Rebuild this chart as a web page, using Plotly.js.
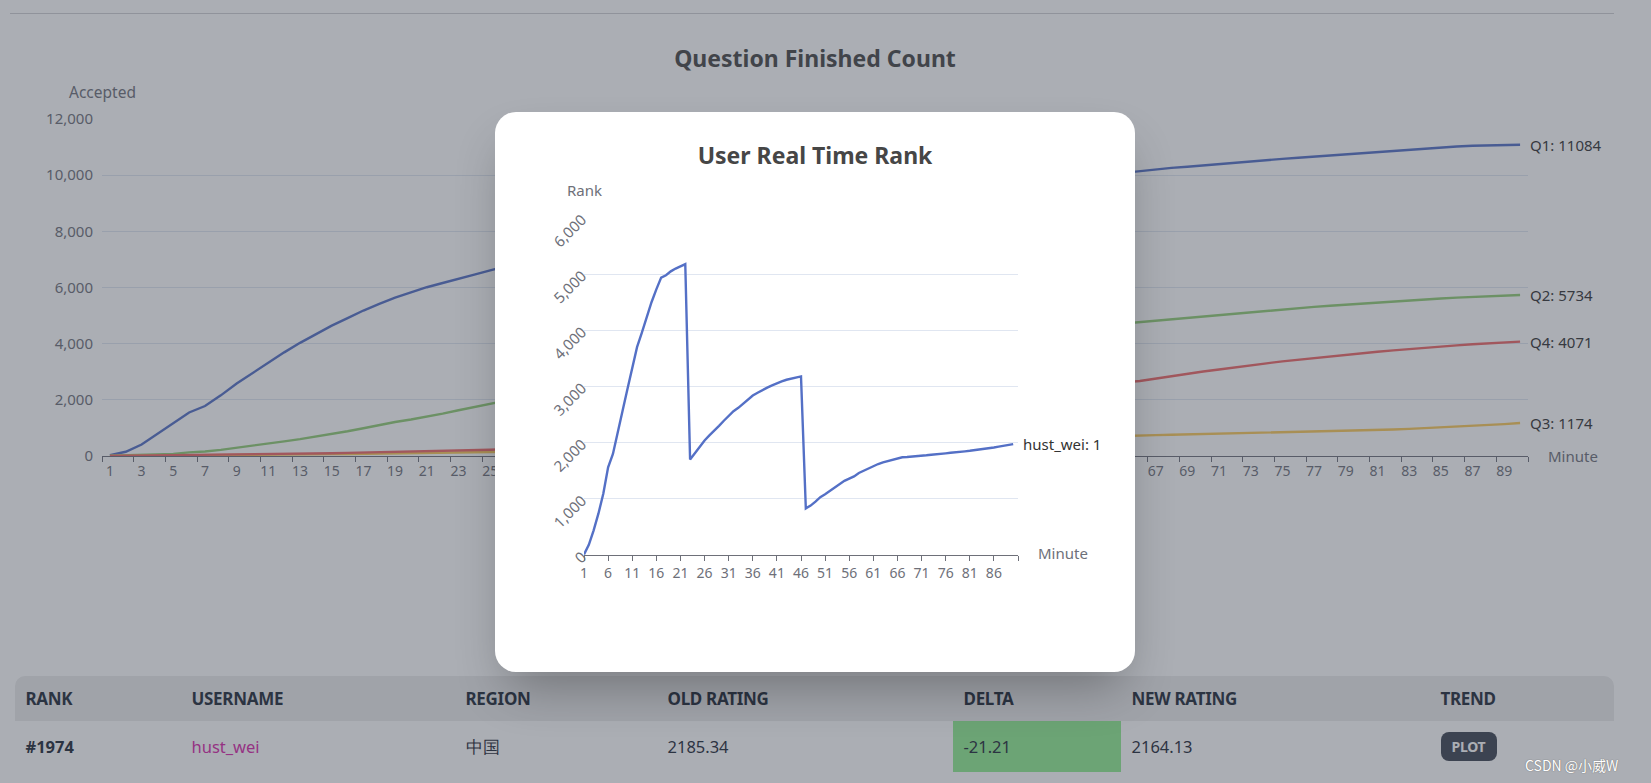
<!DOCTYPE html>
<html><head><meta charset="utf-8">
<script src="https://cdn.plot.ly/plotly-3.0.1.min.js"></script>
<style>
html,body{margin:0;padding:0;width:1651px;height:783px;overflow:hidden;background:#fff;font-family:"Noto Sans",sans-serif;}
#hr{position:absolute;left:10px;top:13px;width:1604px;height:1px;background:#cfd0d4;}
#bg{position:absolute;left:0;top:0;width:1651px;height:520px;}
#tbl{position:absolute;left:15px;top:676px;width:1599px;height:96px;}
#thead{position:absolute;left:0;top:0;width:1599px;height:45px;background:#ececec;border-radius:10px 10px 0 0;}
.cell{position:absolute;box-sizing:border-box;padding-left:10.5px;display:flex;align-items:center;white-space:nowrap;color:#1f2937;}
.hcell{top:0;height:45px;font-weight:700;font-size:17px;letter-spacing:-0.3px;}
.rcell{top:45px;height:51px;font-size:16.5px;}
#btn{background:#3d4451;color:#fff;font-weight:700;font-size:14px;border-radius:8px;width:56px;height:29px;display:flex;align-items:center;justify-content:center;letter-spacing:-0.3px;}
#overlay{position:absolute;left:0;top:0;width:1651px;height:783px;background:rgba(61,68,81,0.43);}
#modal{position:absolute;left:495px;top:112px;width:640px;height:560px;border-radius:21px;background:#fff;box-shadow:0 25px 50px -12px rgba(0,0,0,0.3);overflow:hidden;}
#rank{position:absolute;left:34px;top:13px;width:572px;height:520px;overflow:hidden;}
#wm{position:absolute;left:1525px;top:755px;font-size:14px;color:#fff;font-family:"Noto Sans CJK SC","Noto Sans",sans-serif;text-shadow:0 0 1px #777,0 0 1px #777;}
</style></head>
<body>
<div id="hr"></div>
<div id="bg"></div>
<div id="tbl"><div id="thead"></div></div>
<div id="overlay"></div>
<div id="wm">CSDN @小威W</div>
<div id="modal"><div id="rank"></div></div>
<script>
// ---------- background chart data ----------
const minutes = [1,2,3,4,5,6,7,8,9,10,11,12,13,14,15,16,17,18,19,20,21,22,23,24,25,26,27,28,29,30,31,32,33,34,35,36,37,38,39,40,41,42,43,44,45,46,47,48,49,50,51,52,53,54,55,56,57,58,59,60,61,62,63,64,65,66,67,68,69,70,71,72,73,74,75,76,77,78,79,80,81,82,83,84,85,86,87,88,89,90];
const seriesNames = ['Q1','Q2','Q3','Q4'];
const q1 = [30,150,410,790,1180,1550,1780,2160,2580,2960,3330,3690,4030,4340,4640,4910,5180,5420,5640,5830,6010,6160,6300,6460,6610,
  6760,6900,7040,7170,7300,7420,7540,7650,7760,7870,7970,8070,8170,8260,8350,8440,8530,8610,8690,8770,8850,8930,9000,9070,9140,
  9210,9280,9350,9420,9490,9550,9610,9670,9730,9790,9850,9910,9970,10030,10090,10160,10210,10260,10300,10350,10400,10450,10490,10540,10580,
  10620,10660,10700,10740,10790,10840,10880,10910,10950,10990,11020,11045,11060,11072,11084];
const q2 = [10,25,40,55,75,130,160,220,290,360,440,520,600,690,780,880,990,1110,1210,1300,1400,1510,1630,1750,1860,
  1970,2080,2190,2290,2390,2490,2590,2680,2770,2860,2950,3030,3110,3190,3270,3340,3410,3480,3550,3620,3690,3750,3810,3870,3930,
  3990,4050,4110,4170,4220,4270,4320,4370,4420,4470,4520,4570,4620,4670,4720,4780,4830,4880,4930,4980,5030,5080,5130,5180,5230,
  5270,5310,5350,5390,5420,5460,5500,5540,5570,5610,5640,5670,5690,5710,5734];
const q3 = [0,3,6,10,14,18,22,27,32,37,42,48,54,60,66,72,78,84,90,97,104,111,118,125,132,
  140,150,160,170,180,192,204,216,228,240,253,266,279,292,305,320,335,350,365,380,395,410,425,440,455,
  470,485,500,515,530,545,560,575,590,605,620,640,660,685,710,735,745,755,767,780,795,810,825,840,855,
  865,875,885,895,910,925,945,965,990,1015,1040,1070,1100,1135,1174];
const q4 = [5,10,15,20,25,30,35,40,45,50,60,70,80,90,100,110,120,130,140,150,160,175,190,205,220,
  240,265,295,330,370,420,480,540,610,680,750,820,890,960,1030,1100,1170,1240,1310,1380,1450,1520,1590,1660,1730,
  1800,1860,1920,1980,2040,2100,2160,2220,2280,2340,2400,2460,2520,2570,2620,2670,2760,2850,2930,3010,3080,3160,3230,3300,3370,
  3430,3490,3550,3600,3660,3710,3760,3810,3860,3900,3940,3980,4010,4040,4071];
const bgTickLabels = [1,3,5,7,9,11,13,15,17,19,21,23,25,27,29,31,33,35,37,39,41,43,45,47,49,51,53,55,57,59,61,63,65,67,69,71,73,75,77,79,81,83,85,87,89];

// ---------- modal chart data ----------
const rankMinutes = [1,2,3,4,5,6,7,8,9,10,11,12,13,14,15,16,17,18,19,20,21,22,23,24,25,26,27,28,29,30,31,32,33,34,35,36,37,38,39,40,41,42,43,44,45,46,47,48,49,50,51,52,53,54,55,56,57,58,59,60,61,62,63,64,65,66,67,68,69,70,71,72,73,74,75,76,77,78,79,80,81,82,83,84,85,86,87,88,89,90];
const userName = 'hust_wei';
const rankValues = [10,180,440,740,1090,1560,1800,2160,2570,2950,3350,3700,3960,4250,4500,4730,4940,4980,5050,5100,5140,5180,
  1700,1820,1930,2040,2130,2210,2300,2390,2480,2560,2620,2690,2760,2840,2890,2940,2980,3020,3060,3090,3120,3140,3170,3180,
  830,880,950,1030,1080,1140,1200,1270,1320,1360,1400,1460,1500,1550,1590,1620,1650,1670,1700,1720,1740,1745,1750,1760,
  1770,1775,1785,1790,1800,1810,1820,1825,1835,1845,1855,1865,1875,1890,1900,1915,1930,1945,1960,1974];
const rankTickLabels = [1,6,11,16,21,26,31,36,41,46,51,56,61,66,71,76,81,86];
const rankAxisEnd = 91;

// ---------- table data ----------
const tableHeaders = ['RANK','USERNAME','REGION','OLD RATING','DELTA','NEW RATING','TREND'];
const tableRow = ['#1974','hust_wei','中国','2185.34','-21.21','2164.13','PLOT'];

const palette = ['#5470c6','#91cc75','#fac858','#ee6666'];
const axisGrey = '#6E7079';
const gridCol = '#E0E6F1';
const fontFam = '"Noto Sans", sans-serif';

// ---------- background chart ----------
const bgData = [q1,q2,q3,q4];
const bgTraces = bgData.map((s,i)=>({x:minutes,y:s,type:'scatter',mode:'lines',name:seriesNames[i],
  line:{color:palette[i],width:2.4},hoverinfo:'skip'}));
const bgAnn = [
  {xref:'paper',yref:'paper',x:0,y:1,yshift:27,text:'Accepted',showarrow:false,xanchor:'center',yanchor:'middle',font:{size:15.5,color:axisGrey}},
  {xref:'paper',yref:'paper',x:1,y:0,xshift:18,text:'Minute',showarrow:false,xanchor:'left',yanchor:'middle',font:{size:15,color:axisGrey}}
];
bgData.forEach((s,i)=>{
  const last = s[s.length-1];
  bgAnn.push({xref:'x',yref:'y',x:minutes[minutes.length-1],y:last,xshift:8,xanchor:'left',yanchor:'middle',
    text:seriesNames[i]+': '+last,showarrow:false,font:{size:15,color:'#333'}});
});
Plotly.newPlot('bg', bgTraces, {
  width:1651,height:520,margin:{l:102,r:123,t:119,b:64},
  paper_bgcolor:'rgba(0,0,0,0)',plot_bgcolor:'rgba(0,0,0,0)',showlegend:false,
  font:{family:fontFam,color:axisGrey,size:14},
  title:{text:'Question Finished Count',x:0.5,xref:'paper',xanchor:'center',y:1-59/520,yref:'container',yanchor:'middle',
    font:{size:23,color:'#464646',weight:'bold',family:fontFam}},
  xaxis:{range:[0.5,90.5],tickmode:'array',tickvals:bgTickLabels,ticktext:bgTickLabels.map(String),ticks:'',
    showline:true,linecolor:axisGrey,linewidth:1,showgrid:false,zeroline:false,
    minor:{tickmode:'linear',tick0:0.5,dtick:2,ticks:'outside',ticklen:5,tickcolor:axisGrey,showgrid:false},
    tickfont:{size:14,color:axisGrey},ticklabelstandoff:2,fixedrange:true},
  yaxis:{range:[0,12000],dtick:2000,tickformat:',',showgrid:true,gridcolor:gridCol,zeroline:false,showline:false,ticks:'',
    tickfont:{size:15,color:axisGrey},ticklabelstandoff:8,fixedrange:true},
  annotations:bgAnn
},{displayModeBar:false,staticPlot:true});

// ---------- modal chart ----------
const rankTicks = rankTickLabels.concat([rankAxisEnd]);
Plotly.newPlot('rank', [{x:rankMinutes,y:rankValues,type:'scatter',mode:'lines',name:userName,
  line:{color:palette[0],width:2.4},hoverinfo:'skip'}], {
  width:572,height:520,margin:{l:55,r:83,t:93,b:90},
  paper_bgcolor:'#fff',plot_bgcolor:'#fff',showlegend:false,
  font:{family:fontFam,color:axisGrey,size:14},
  title:{text:'User Real Time Rank',x:0.5,xref:'container',xanchor:'center',y:1-31/520,yref:'container',yanchor:'middle',
    font:{size:23,color:'#464646',weight:'bold',family:fontFam}},
  xaxis:{range:[1,rankAxisEnd],tickmode:'array',tickvals:rankTicks,ticktext:rankTicks.map((v,i)=>i<rankTickLabels.length?String(v):''),
    ticks:'outside',ticklen:5,tickcolor:axisGrey,showline:true,linecolor:axisGrey,linewidth:1,showgrid:false,zeroline:false,
    tickfont:{size:14,color:axisGrey},tickangle:0,fixedrange:true},
  yaxis:{range:[0,6000],dtick:1000,tickformat:',',showgrid:true,gridcolor:gridCol,zeroline:false,showline:false,ticks:'',
    tickangle:-45,tickfont:{size:15,color:axisGrey},ticklabelstandoff:1,fixedrange:true},
  annotations:[
    {xref:'paper',yref:'paper',x:0,y:1,yshift:28,text:'Rank',showarrow:false,xanchor:'center',yanchor:'middle',font:{size:15,color:axisGrey}},
    {xref:'paper',yref:'paper',x:1,y:0,xshift:18,yshift:2,text:'Minute',showarrow:false,xanchor:'left',yanchor:'middle',font:{size:15,color:axisGrey}},
    {xref:'x',yref:'y',x:rankMinutes[rankMinutes.length-1],y:rankValues[rankValues.length-1],xshift:8,xanchor:'left',yanchor:'middle',
      text:userName+': '+rankValues[rankValues.length-1],showarrow:false,font:{size:15,color:'#333'}}
  ]
},{displayModeBar:false,staticPlot:true});

// ---------- table ----------
const colLeft = [0,166,440,642,938,1106,1415];
const colWidth = [166,274,202,296,168,309,184];
const tbl = document.getElementById('tbl');
tableHeaders.forEach((h,i)=>{
  const d=document.createElement('div');d.className='cell hcell';d.style.left=colLeft[i]+'px';d.style.width=colWidth[i]+'px';d.textContent=h;tbl.appendChild(d);
});
tableRow.forEach((v,i)=>{
  const d=document.createElement('div');d.className='cell rcell';d.style.left=colLeft[i]+'px';d.style.width=colWidth[i]+'px';
  if(i===0){d.style.fontWeight='700';}
  if(i===1){d.style.color='#D926A9';}
  if(i===4){d.style.background='#90ee90';}
  if(i===6){const b=document.createElement('div');b.id='btn';b.textContent=v;d.appendChild(b);} else d.textContent=v;
  tbl.appendChild(d);
});
</script>
</body></html>
